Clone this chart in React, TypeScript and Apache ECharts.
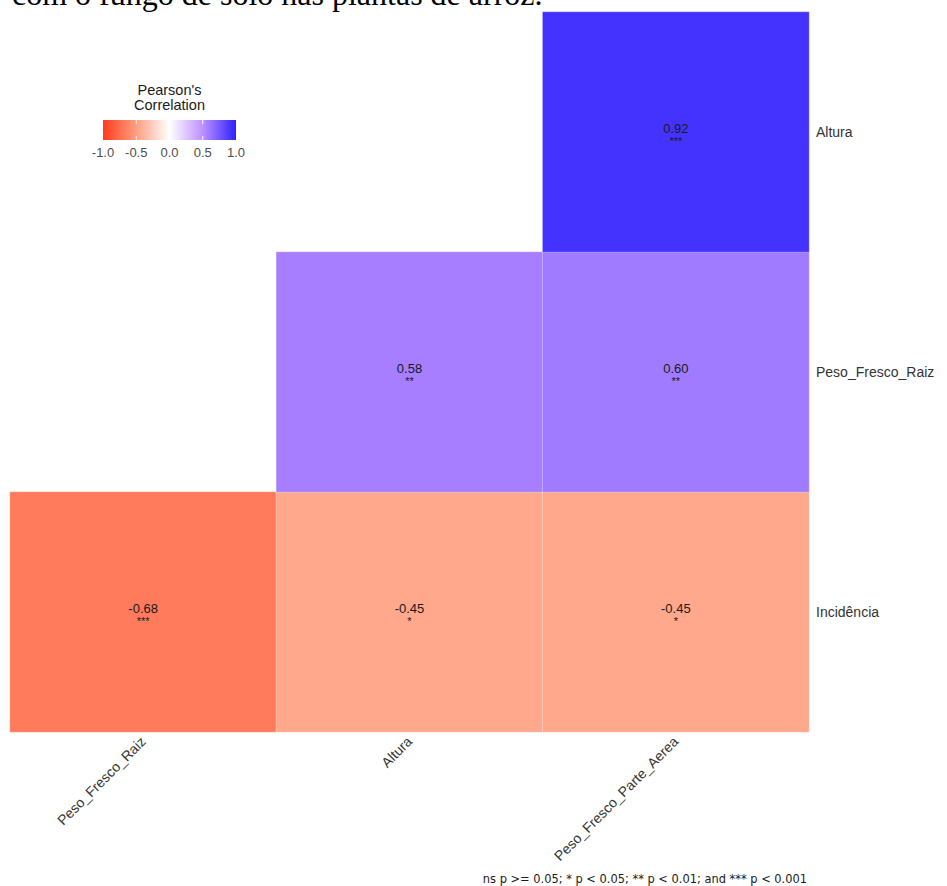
import React, { useEffect, useRef } from "react";
import * as echarts from "echarts";

const xCategories = ["Peso_Fresco_Raiz", "Altura", "Peso_Fresco_Parte_Aerea"];
const yCategories = ["Incidência", "Peso_Fresco_Raiz", "Altura"];

const cellX = [0, 1, 2, 1, 2, 2];
const cellY = [0, 0, 0, 1, 1, 2];
const corrValues = [-0.68, -0.45, -0.45, 0.58, 0.6, 0.92];
const corrStars = ["***", "*", "*", "**", "**", "***"];

const legendTicks = [-1.0, -0.5, 0.0, 0.5, 1.0];
const scaleColors = ["#FF3D1E", "#FF9E7F", "#FFFFFF", "#BD90FF", "#2D21FF"];

const titleText = "com o fungo de solo nas plantas de arroz.";
const legendTitle = ["Pearson's", "Correlation"];
const footnoteText = "ns p >= 0.05; * p < 0.05; ** p < 0.01; and *** p < 0.001";

const SANS = "Liberation Sans, Arial, sans-serif";

export default function App() {
  const ref = useRef<HTMLDivElement>(null);

  useEffect(() => {
    if (!ref.current) return;
    const chart = echarts.init(ref.current, null, { renderer: "svg" });

    const data = corrValues.map((v, i) => ({
      value: [cellX[i], cellY[i], v],
      stars: corrStars[i],
    }));

    // legend geometry
    const lx = 103;
    const ly = 120;
    const lw = 133;
    const lh = 20;
    const tickX = (t: number) => lx + ((t + 1) / 2) * lw;

    const legendGraphics: any[] = legendTitle.map((t, i) => ({
      type: "text",
      style: {
        x: lx + lw / 2,
        y: 90 + i * 15,
        text: t,
        fontFamily: SANS,
        fontSize: 14.5,
        fill: "#1a1a1a",
        align: "center",
        verticalAlign: "middle",
      },
    }));
    legendGraphics.push({
      type: "rect",
      shape: { x: lx, y: ly, width: lw, height: lh },
      style: {
        fill: new echarts.graphic.LinearGradient(
          0,
          0,
          1,
          0,
          scaleColors.map((c, i) => ({ offset: i / (scaleColors.length - 1), color: c }))
        ),
      },
    });
    legendTicks.forEach((t) => {
      const x = tickX(t);
      if (t > -1 && t < 1) {
        legendGraphics.push({
          type: "line",
          shape: { x1: x, y1: ly, x2: x, y2: ly + 4 },
          style: { stroke: "#ffffff", lineWidth: 1 },
        });
        legendGraphics.push({
          type: "line",
          shape: { x1: x, y1: ly + lh - 4, x2: x, y2: ly + lh },
          style: { stroke: "#ffffff", lineWidth: 1 },
        });
      }
      legendGraphics.push({
        type: "text",
        style: {
          x: x,
          y: 152,
          text: t.toFixed(1),
          fontFamily: SANS,
          fontSize: 13,
          fill: "#4d4d4d",
          align: "center",
          verticalAlign: "middle",
        },
      });
    });

    chart.setOption({
      animation: false,
      backgroundColor: "#ffffff",
      grid: { left: 10, right: 138, top: 12, bottom: 154, containLabel: false },
      xAxis: {
        type: "category",
        data: xCategories,
        axisLine: { show: false },
        axisTick: { show: false },
        splitLine: { show: false },
        splitArea: { show: false },
        axisLabel: {
          rotate: 45,
          margin: 7,
          fontSize: 14,
          color: "#333333",
          fontFamily: SANS,
        },
      },
      yAxis: {
        type: "category",
        data: yCategories,
        position: "right",
        axisLine: { show: false },
        axisTick: { show: false },
        splitLine: { show: false },
        splitArea: { show: false },
        axisLabel: {
          margin: 7,
          fontSize: 14,
          color: "#333333",
          fontFamily: SANS,
        },
      },
      visualMap: {
        show: false,
        type: "continuous",
        min: -1,
        max: 1,
        dimension: 2,
        inRange: { color: scaleColors },
      },
      series: [
        {
          type: "heatmap",
          data: data,
          itemStyle: { borderColor: "rgba(255,255,255,0.5)", borderWidth: 0.6 },
          emphasis: { disabled: true },
          label: {
            show: true,
            offset: [0, 2],
            formatter: (p: any) => `{v|${p.data.value[2].toFixed(2)}}\n{s|${p.data.stars}}`,
            rich: {
              v: {
                fontSize: 13,
                lineHeight: 13,
                color: "#1a1a1a",
                fontFamily: SANS,
              },
              s: {
                fontSize: 11,
                lineHeight: 11,
                color: "#1a1a1a",
                fontFamily: SANS,
              },
            },
          },
        },
      ],
      graphic: [
        {
          type: "text",
          style: {
            x: 12,
            y: -6,
            text: titleText,
            fontFamily: "Liberation Serif, Times New Roman, serif",
            fontSize: 32,
            fill: "#000000",
            align: "left",
            verticalAlign: "middle",
          },
        },
        ...legendGraphics,
        {
          type: "text",
          style: {
            x: 807,
            y: 878,
            text: footnoteText,
            fontFamily: "Liberation Sans Narrow, DejaVu Sans Condensed, Liberation Sans, sans-serif",
            fontSize: 12.7,
            fill: "#1a1a1a",
            align: "right",
            verticalAlign: "middle",
          },
        },
      ],
    });

    return () => chart.dispose();
  }, []);

  return (
    <div
      ref={ref}
      style={{ position: "fixed", left: 0, top: 0, width: 947, height: 886, background: "#fff" }}
    />
  );
}
